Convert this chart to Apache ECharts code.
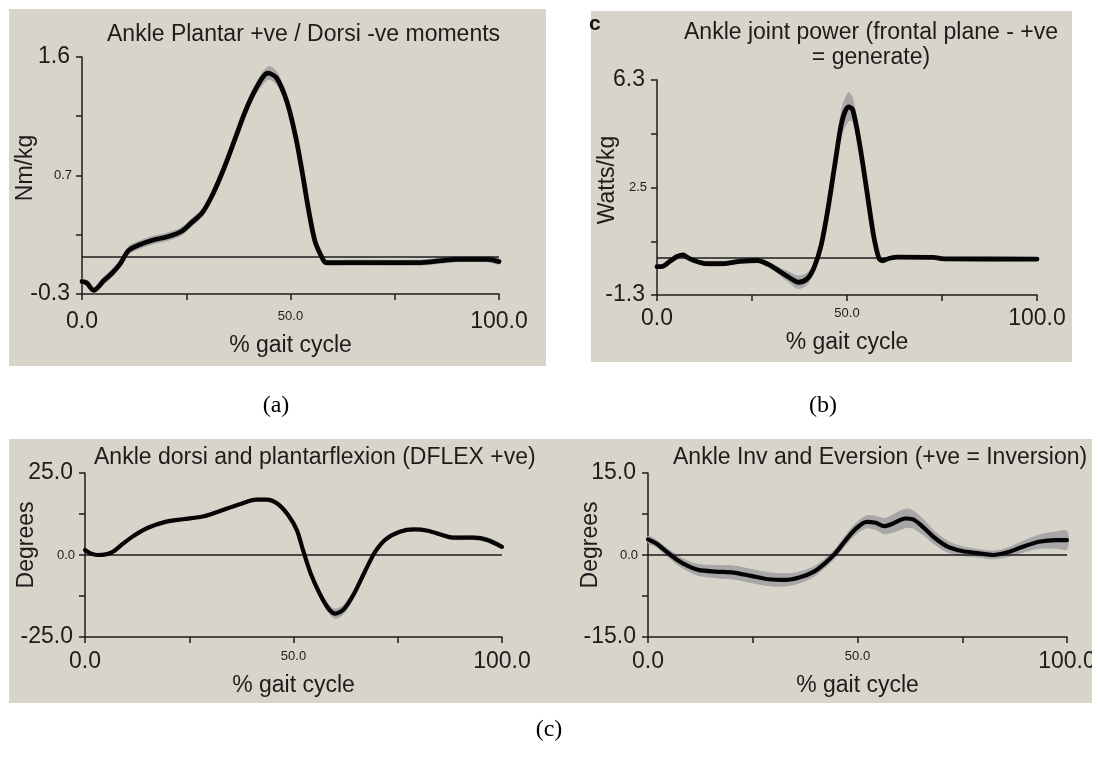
<!DOCTYPE html>
<html><head><meta charset="utf-8">
<script src="https://cdn.jsdelivr.net/npm/echarts@6/dist/echarts.min.js"></script>
<style>html,body{margin:0;padding:0;background:#fff}#c{width:1098px;height:758px}</style>
</head><body><div id="c"></div>
<script>
// ---- data ----
const xTickLabels = ['0.0', '', '50.0', '', '100.0'];

const titleA = 'Ankle Plantar +ve / Dorsi -ve moments';
const yNameA = 'Nm/kg';
const yTicksA = ['-0.3', '', '0.7', '', '1.6'];
const xA = [0, 1.1, 2.8, 5.3, 7, 9.1, 11.2, 13.8, 17.1, 20.5, 23.9, 26.4, 28.9, 31.5, 34, 36.5, 39.1, 41.6, 44.6, 46.7, 49.2, 51.3, 53, 54.3, 55.9, 57.6, 58.5, 64.4, 81.3, 89.7, 97.3, 100];
const meanA = [-0.20, -0.21, -0.27, -0.19, -0.14, -0.06, 0.05, 0.095, 0.133, 0.159, 0.203, 0.276, 0.354, 0.51, 0.704, 0.925, 1.159, 1.34, 1.47, 1.431, 1.236, 0.951, 0.64, 0.38, 0.12, -0.01, -0.048, -0.048, -0.048, -0.022, -0.022, -0.04];
const sdA = [0.02, 0.02, 0.02, 0.03, 0.03, 0.03, 0.03, 0.03, 0.03, 0.03, 0.03, 0.03, 0.03, 0.03, 0.03, 0.03, 0.03, 0.04, 0.05, 0.05, 0.03, 0.02, 0.02, 0.02, 0.02, 0.02, 0.02, 0.02, 0.02, 0.02, 0.02, 0.02];

const titleB = 'Ankle joint power (frontal plane - +ve\n= generate)';
const yNameB = 'Watts/kg';
const yTicksB = ['-1.3', '', '2.5', '', '6.3'];
const xB = [0, 1.6, 3.4, 5.3, 6.9, 8.0, 9.9, 12.7, 17.3, 21.9, 26.5, 29.3, 32.1, 34.8, 37.2, 39.5, 41.3, 43.2, 45.0, 46.9, 48.7, 50.4, 51.5, 53.3, 55.2, 57.0, 58.4, 59.3, 61.2, 63.5, 72.7, 75.5, 100];
const meanB = [-0.30, -0.28, -0.11, 0.06, 0.12, 0.03, -0.09, -0.19, -0.19, -0.11, -0.08, -0.22, -0.45, -0.68, -0.85, -0.73, -0.34, 0.46, 1.75, 3.4, 4.85, 5.35, 5.25, 4.05, 2.4, 0.80, 0.0, -0.09, 0.0, 0.04, 0.03, -0.02, -0.03];
const sdB = [0.05, 0.05, 0.05, 0.05, 0.05, 0.05, 0.05, 0.08, 0.08, 0.05, 0.05, 0.08, 0.12, 0.18, 0.22, 0.2, 0.12, 0.1, 0.15, 0.3, 0.45, 0.5, 0.4, 0.2, 0.1, 0.05, 0.05, 0.05, 0.05, 0.05, 0.05, 0.05, 0.05];

const titleC = 'Ankle dorsi and plantarflexion (DFLEX +ve)';
const yNameC = 'Degrees';
const yTicksC = ['-25.0', '', '0.0', '', '25.0'];
const xC = [0, 1.3, 2.9, 5.0, 6.7, 9.2, 11.7, 15.1, 19.3, 23.5, 28.5, 31.9, 36.9, 41.1, 43.6, 46.1, 48.7, 50.8, 52.4, 54.1, 56.2, 58.3, 60.0, 62.1, 64.6, 67.1, 69.6, 72.1, 75.5, 78.9, 82.2, 85.6, 88.1, 93.1, 96.5, 100];
const meanC = [1.5, 0.5, 0, 0.2, 1.0, 3.55, 5.87, 8.3, 10.1, 10.9, 11.8, 13.2, 15.4, 16.9, 16.9, 15.7, 12.2, 7.6, 1.0, -5.6, -11.6, -16.2, -17.9, -16.5, -11.6, -5.1, 1.0, 4.8, 7.1, 7.8, 7.4, 6.1, 5.3, 5.3, 4.6, 2.5];
const sdC = [0.4, 0.4, 0.4, 0.4, 0.4, 0.4, 0.4, 0.4, 0.4, 0.4, 0.4, 0.4, 0.4, 0.4, 0.4, 0.4, 0.5, 0.5, 0.6, 0.8, 1.0, 1.2, 1.4, 1.3, 1.1, 0.9, 0.7, 0.5, 0.4, 0.4, 0.4, 0.5, 0.6, 0.6, 0.7, 0.6];

const titleD = 'Ankle Inv and Eversion (+ve = Inversion)';
const yNameD = 'Degrees';
const yTicksD = ['-15.0', '', '0.0', '', '15.0'];
const xD = [0, 1.9, 4.4, 7.0, 9.5, 12.0, 16.2, 20.4, 24.6, 28.8, 32.9, 36.3, 39.6, 42.2, 44.7, 47.2, 49.7, 52.2, 54.3, 56.4, 58.5, 61.4, 63.1, 65.6, 68.1, 71.5, 74.9, 79.0, 82.4, 85.8, 89.1, 93.3, 97.5, 100];
const meanD = [2.85, 2.13, 0.61, -0.91, -2.0, -2.73, -3.04, -3.22, -3.83, -4.43, -4.55, -4.07, -3.04, -1.52, 0.3, 2.73, 4.86, 6.07, 5.89, 5.28, 5.77, 6.68, 6.56, 5.16, 3.34, 1.52, 0.73, 0.3, 0, 0.49, 1.4, 2.43, 2.73, 2.73];
const sdD = [0.6, 0.6, 0.7, 0.8, 0.9, 1.0, 1.1, 1.2, 1.2, 1.2, 1.1, 1.0, 0.9, 0.8, 0.8, 0.9, 1.0, 1.1, 1.2, 1.4, 1.6, 1.7, 1.6, 1.4, 1.2, 1.0, 0.8, 0.7, 0.7, 0.8, 1.0, 1.2, 1.5, 1.6];

const xLabel = '% gait cycle';
const panelLabels = ['(a)', '(b)', '(c)'];

// ---- styling / layout ----
const FONT = '"Liberation Sans", Arial, Helvetica, sans-serif';
const SERIF = '"Liberation Serif", "Times New Roman", serif';
const INK = '#1c1c1c';
const BG = '#d8d4ca';
const BAND = '#a7a7a7';

const panels = [
  { x: xA, m: meanA, sd: sdA, min: -0.3, max: 1.6, ticks: yTicksA, name: yNameA, title: titleA,
    grid: { left: 82, top: 57, width: 417, height: 237 }, xMargin: 16, xGap: 38, nameAt: [26, 168], lw: 4.8 },
  { x: xB, m: meanB, sd: sdB, min: -1.3, max: 6.3, ticks: yTicksB, name: yNameB, title: titleB,
    grid: { left: 657, top: 80, width: 380, height: 215 }, xMargin: 12, xGap: 33, nameAt: [608, 180], lw: 4.8 },
  { x: xC, m: meanC, sd: sdC, min: -25, max: 25, ticks: yTicksC, name: yNameC, title: titleC,
    grid: { left: 85, top: 473, width: 417, height: 164 }, xMargin: 13, xGap: 31, nameAt: [27, 545], lw: 4.2 },
  { x: xD, m: meanD, sd: sdD, min: -15, max: 15, ticks: yTicksD, name: yNameD, title: titleD,
    grid: { left: 648, top: 473, width: 419, height: 164 }, xMargin: 13, xGap: 31, nameAt: [591, 545], lw: 4.2 }
];

const rich = {
  b: { fontSize: 23, fontFamily: FONT, color: INK, padding: [0, 2, 0, 0] },
  s: { fontSize: 13, fontFamily: FONT, color: INK }
};
const richX = {
  b: { fontSize: 23, fontFamily: FONT, color: INK },
  s: { fontSize: 13, fontFamily: FONT, color: INK }
};

function tickFmt(labels, min, step) {
  return function (v) {
    const i = Math.round((v - min) / step);
    const t = labels[i] || '';
    if (!t) return '';
    return (i === 2 ? '{s|' : '{b|') + t + '}';
  };
}

function bandRender(xs, mean, sd) {
  return function (params, api) {
    if (params.dataIndex !== 0) return null;
    const up = xs.map((x, i) => api.coord([x, mean[i] + sd[i]]));
    const lo = xs.map((x, i) => api.coord([x, mean[i] - sd[i]])).reverse();
    return {
      type: 'polygon',
      shape: { points: up.concat(lo), smooth: 0.3 },
      style: { fill: BAND, stroke: BAND, lineWidth: 1 }
    };
  };
}

const grid = [], xAxis = [], yAxis = [], series = [];
const titleStyle = { font: '23px ' + FONT, fill: INK };
const graphic = [
  { type: 'rect', z: -10, shape: { x: 9, y: 9, width: 537, height: 357 }, style: { fill: BG } },
  { type: 'rect', z: -10, shape: { x: 591, y: 11, width: 481, height: 351 }, style: { fill: BG } },
  { type: 'rect', z: -10, shape: { x: 9, y: 439, width: 1083, height: 264 }, style: { fill: BG } }
];

panels.forEach((p, k) => {
  grid.push(Object.assign({ outerBoundsMode: 'none', containLabel: false }, p.grid));
  const axisLine = { show: true, onZero: false, lineStyle: { color: INK, width: 1.5 } };
  const axisTick = { show: true, inside: false, length: 6, lineStyle: { color: INK, width: 1.5 } };
  xAxis.push({
    type: 'value', gridIndex: k, min: 0, max: 100, interval: 25,
    axisLine, axisTick, splitLine: { show: false },
    axisLabel: { show: true, margin: p.xMargin, formatter: tickFmt(xTickLabels, 0, 25), rich: richX,
      showMinLabel: true, showMaxLabel: true, hideOverlap: false },
    name: xLabel, nameLocation: 'middle', nameGap: p.xGap,
    nameTextStyle: { fontSize: 23, fontFamily: FONT, color: INK }
  });
  const step = (p.max - p.min) / 4;
  yAxis.push({
    type: 'value', gridIndex: k, min: p.min, max: p.max, interval: step,
    axisLine, axisTick, splitLine: { show: false },
    axisLabel: { show: true, margin: 10, formatter: tickFmt(p.ticks, p.min, step), rich,
      showMinLabel: true, showMaxLabel: true, hideOverlap: false }
  });
  series.push({
    type: 'custom', xAxisIndex: k, yAxisIndex: k, clip: false, silent: true, z: 1,
    renderItem: bandRender(p.x, p.m, p.sd),
    encode: { x: 0, y: [1, 2] },
    data: p.x.map((x, i) => [x, p.m[i] - p.sd[i], p.m[i] + p.sd[i]])
  });
  series.push({
    type: 'line', xAxisIndex: k, yAxisIndex: k, z: 3,
    data: p.x.map((x, i) => [x, p.m[i]]),
    showSymbol: false, symbol: 'none', smooth: 0.3,
    lineStyle: { color: '#050505', width: p.lw, cap: 'round', join: 'round' },
    markLine: {
      silent: true, symbol: 'none', label: { show: false },
      lineStyle: { color: INK, width: 1.5, type: 'solid' },
      data: [{ yAxis: 0 }], z: 2
    }
  });
  // rotated y-axis name
  graphic.push({ type: 'text', z: 5, x: p.nameAt[0], y: p.nameAt[1], rotation: Math.PI / 2,
    style: { text: p.name, textAlign: 'center', textVerticalAlign: 'middle', font: '23px ' + FONT, fill: INK } });
});

graphic.push(
  { type: 'text', z: 5, style: Object.assign({ text: titleA, x: 107, y: 35, textAlign: 'left', textVerticalAlign: 'middle' }, titleStyle) },
  { type: 'text', z: 5, style: Object.assign({ text: titleB, x: 871, y: 20, textAlign: 'center', textVerticalAlign: 'top', lineHeight: 25 }, titleStyle) },
  { type: 'text', z: 5, style: Object.assign({ text: titleC, x: 94, y: 458, textAlign: 'left', textVerticalAlign: 'middle' }, titleStyle) },
  { type: 'text', z: 5, style: Object.assign({ text: titleD, x: 673, y: 458, textAlign: 'left', textVerticalAlign: 'middle' }, titleStyle) },
  { type: 'text', z: 5, style: { text: 'c', x: 589, y: 24, textAlign: 'left', textVerticalAlign: 'middle', font: 'bold 21px ' + FONT, fill: '#111' } },
  { type: 'text', z: 5, style: { text: panelLabels[0], x: 276, y: 406, textAlign: 'center', textVerticalAlign: 'middle', font: '24px ' + SERIF, fill: '#000' } },
  { type: 'text', z: 5, style: { text: panelLabels[1], x: 823, y: 406, textAlign: 'center', textVerticalAlign: 'middle', font: '24px ' + SERIF, fill: '#000' } },
  { type: 'text', z: 5, style: { text: panelLabels[2], x: 549, y: 730, textAlign: 'center', textVerticalAlign: 'middle', font: '24px ' + SERIF, fill: '#000' } },
  { type: 'rect', z: 100, shape: { x: 1092, y: 430, width: 10, height: 280 }, style: { fill: '#fff' } }
);

const chart = echarts.init(document.getElementById('c'), null, { renderer: 'canvas', width: 1098, height: 758 });
chart.setOption({
  backgroundColor: '#ffffff',
  animation: false,
  grid, xAxis, yAxis, series, graphic
});
</script></body></html>
